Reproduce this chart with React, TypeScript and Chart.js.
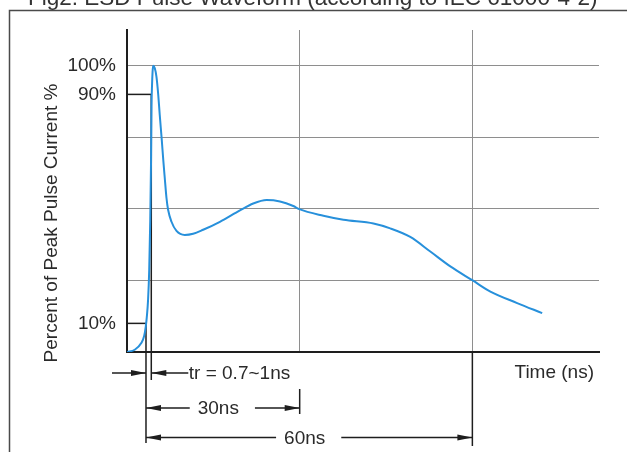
import React, { useEffect, useRef } from 'react';
import { Chart, registerables } from 'chart.js';

Chart.register(...registerables);

// ---- Text ----
const TITLE = 'Fig2. ESD Pulse Waveform (according to IEC 61000-4-2)';
const Y_TITLE = 'Percent of Peak Pulse Current %';
const X_TITLE = 'Time (ns)';
const RISE_LABEL = 'tr = 0.7~1ns';

// ---- Data ----
const TIME_NS = [
  0, 1.34, 2.51, 2.99, 3.26, 3.43, 3.66, 3.86, 4.04, 4.18,
  4.26, 4.35, 4.44, 4.53, 4.82, 5.12, 5.43, 5.69, 6.04, 6.3,
  6.56, 6.86, 7.14, 7.73, 8.6, 10.04, 11.49, 13.23, 16.14, 19.62,
  21.93, 24.26, 26.58, 28.89, 29.94, 34.12, 37.6, 42.82, 45.73, 49.21,
  52.69, 56.17, 60.05, 63.13, 67.78, 72.13,
];
const CURRENT_PCT = [
  0, 0.8, 3.2, 5.7, 8.9, 12.0, 18.2, 28.7, 46.2, 67.1,
  86.0, 93.3, 97.8, 100, 99.2, 96.1, 89.8, 82.8, 74.1, 67.1,
  60.8, 53.8, 49.7, 45.5, 42.3, 40.9, 41.3, 42.7, 45.5, 49.5,
  51.9, 53.1, 52.6, 51.0, 49.9, 47.6, 46.2, 44.9, 43.2, 40.2,
  35.1, 29.9, 25.0, 21.1, 17.1, 13.6,
];
const Y_TICKS = [0, 10, 25, 50, 75, 90, 100];
const Y_GRID = [25, 50, 75, 100];
const Y_LABELED = [10, 90, 100];
const X_TICKS = [0, 30, 60];
const X_GRID = [30, 60];
const SPANS_NS = [30, 60];
const SPAN_LABELS = ['30ns', '60ns'];
const T10_NS = 3.3; // time at 10 %
const T90_NS = 4.22; // time at 90 %
const LEVEL_LOW = 10;
const LEVEL_HIGH = 90;
const X_MAX = 82;
const Y_MAX = 112.5;

const FONT = '"Liberation Sans", Arial, Helvetica, sans-serif';
const INK = '#1e1e1e';
const TEXT = '#2a2a2a';
const GRID = '#8e8e8e';
const BLUE = '#2790db';

function arrowHead(ctx: CanvasRenderingContext2D, tipX: number, y: number, dir: number) {
  const L = 15;
  const W = 3;
  ctx.beginPath();
  ctx.moveTo(tipX, y);
  ctx.lineTo(tipX - dir * L, y - W);
  ctx.lineTo(tipX - dir * L, y + W);
  ctx.closePath();
  ctx.fill();
}

function line(ctx: CanvasRenderingContext2D, x1: number, y1: number, x2: number, y2: number) {
  ctx.beginPath();
  ctx.moveTo(x1, y1);
  ctx.lineTo(x2, y2);
  ctx.stroke();
}

const decorPlugin = {
  id: 'decor',
  beforeDatasetsDraw(chart: any) {
    const { ctx, chartArea } = chart;
    const xs = chart.scales.x;
    const ys = chart.scales.y;
    const x0 = chartArea.left;
    const yb = chartArea.bottom;
    const x10 = xs.getPixelForValue(T10_NS);
    const x90 = xs.getPixelForValue(T90_NS);
    const y10 = ys.getPixelForValue(LEVEL_LOW);
    const y90 = ys.getPixelForValue(LEVEL_HIGH);

    ctx.save();
    // outer frame
    ctx.strokeStyle = '#4a4a4a';
    ctx.lineWidth = 1.5;
    ctx.strokeRect(9.5, 10.5, chart.width + 40, chart.height + 40);

    // title (partly cut off at top)
    ctx.fillStyle = '#333';
    ctx.font = `22.5px ${FONT}`;
    ctx.textAlign = 'left';
    ctx.textBaseline = 'alphabetic';
    ctx.fillText(TITLE, 28, 4.5);

    // y axis title
    ctx.save();
    ctx.translate(52, 223);
    ctx.rotate(-Math.PI / 2);
    ctx.fillStyle = TEXT;
    ctx.font = `19px ${FONT}`;
    ctx.textAlign = 'center';
    ctx.textBaseline = 'middle';
    ctx.fillText(Y_TITLE, 0, 0);
    ctx.restore();

    // level marker lines
    ctx.strokeStyle = INK;
    ctx.lineWidth = 1.5;
    line(ctx, x0, y90, x90, y90);
    line(ctx, x90, y90, x90, yb + 28);
    line(ctx, x0, y10, x10, y10);
    line(ctx, x10, y10, x10, yb + 91);

    // span end markers
    const x30 = xs.getPixelForValue(SPANS_NS[0]);
    const x60 = xs.getPixelForValue(SPANS_NS[1]);
    line(ctx, x30, yb + 37, x30, yb + 62);
    line(ctx, x60, yb, x60, yb + 94);

    ctx.fillStyle = INK;
    ctx.font = `19px ${FONT}`;
    ctx.textBaseline = 'middle';

    // rise time arrows
    const yTr = yb + 21;
    line(ctx, x10 - 34, yTr, x10, yTr);
    arrowHead(ctx, x10, yTr, 1);
    line(ctx, x90, yTr, x90 + 37, yTr);
    arrowHead(ctx, x90, yTr, -1);
    ctx.fillStyle = TEXT;
    ctx.textAlign = 'left';
    ctx.fillText(RISE_LABEL, x90 + 37.5, yTr + 1);

    // span arrows
    const rows = [yb + 56, yb + 85.5];
    SPANS_NS.forEach((ns, i) => {
      const xe = xs.getPixelForValue(ns);
      const yy = rows[i];
      const label = SPAN_LABELS[i];
      const w = ctx.measureText(label).width;
      const cx = (x10 + xe) / 2 - 4.5;
      ctx.fillStyle = INK;
      line(ctx, x10, yy, cx - w / 2 - 8, yy);
      arrowHead(ctx, x10, yy, -1);
      line(ctx, cx + w / 2 + 16, yy, xe, yy);
      arrowHead(ctx, xe, yy, 1);
      ctx.fillStyle = TEXT;
      ctx.textAlign = 'center';
      ctx.fillText(label, cx, yy + 1);
    });

    // x axis title
    ctx.textAlign = 'right';
    ctx.fillText(X_TITLE, chartArea.right - 5, yb + 21);
    ctx.restore();
  },
};

export default function App() {
  const ref = useRef<HTMLCanvasElement>(null);

  useEffect(() => {
    if (!ref.current) return;
    Chart.defaults.font.family = FONT;
    const chart = new Chart(ref.current, {
      type: 'line',
      data: {
        datasets: [
          {
            data: TIME_NS.map((t, i) => ({ x: t, y: CURRENT_PCT[i] })),
            borderColor: BLUE,
            borderWidth: 2,
            pointRadius: 0,
            fill: false,
            cubicInterpolationMode: 'monotone',
          },
        ],
      },
      options: {
        animation: false,
        responsive: true,
        maintainAspectRatio: false,
        layout: { padding: { left: 0, top: 30, right: 28, bottom: 100 } },
        plugins: {
          legend: { display: false },
          tooltip: { enabled: false },
          title: { display: false },
        },
        scales: {
          x: {
            type: 'linear',
            min: 0,
            max: X_MAX,
            afterBuildTicks: (scale: any) => {
              scale.ticks = X_TICKS.map((v) => ({ value: v }));
            },
            afterFit: (scale: any) => {
              scale.height = 0;
            },
            ticks: { display: false },
            grid: {
              drawTicks: false,
              lineWidth: 1,
              color: (c: any) => (X_GRID.includes(c.tick?.value) ? GRID : 'transparent'),
            },
            border: { display: true, color: INK, width: 2 },
          },
          y: {
            type: 'linear',
            min: 0,
            max: Y_MAX,
            afterBuildTicks: (scale: any) => {
              scale.ticks = Y_TICKS.map((v) => ({ value: v }));
            },
            afterFit: (scale: any) => {
              scale.width = 127;
            },
            ticks: {
              autoSkip: false,
              padding: 11,
              color: TEXT,
              font: { size: 19, family: FONT },
              callback: (v: any) => (Y_LABELED.includes(Number(v)) ? `${v}%` : ''),
            },
            grid: {
              drawTicks: false,
              lineWidth: 1,
              color: (c: any) => (Y_GRID.includes(c.tick?.value) ? GRID : 'transparent'),
            },
            border: { display: true, color: INK, width: 2 },
          },
        },
      },
      plugins: [decorPlugin],
    } as any);
    return () => chart.destroy();
  }, []);

  return (
    <div style={{ position: 'absolute', left: 0, top: 0, width: 627, height: 452, background: '#fff' }}>
      <canvas ref={ref} />
    </div>
  );
}
